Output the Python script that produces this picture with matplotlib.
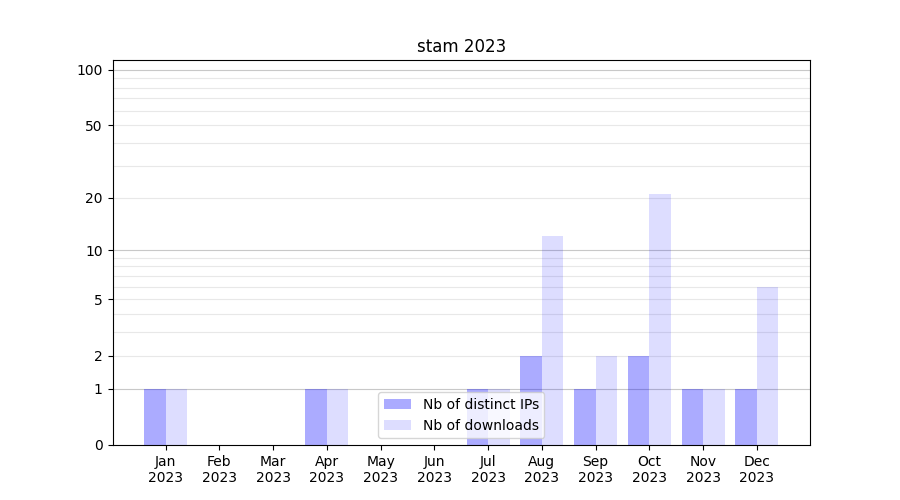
import numpy as np
import matplotlib.pyplot as plt

# Données
months = ["Jan", "Feb", "Mar", "Apr", "May", "Jun", "Jul", "Aug", "Sep", "Oct", "Nov", "Dec"]
year = "2023"
ips = [1, 0, 0, 1, 0, 0, 1, 2, 1, 2, 1, 1]
downloads = [1, 0, 0, 1, 0, 0, 1, 12, 2, 21, 1, 6]
yticks = [0, 1, 2, 5, 10, 20, 50, 100]

fig, ax = plt.subplots(figsize=(9, 5), dpi=100)

# Échelle log(x+1)
ax.set_yscale('function', functions=(lambda v: np.log10(np.clip(v, -0.999, None) + 1),
                                     lambda v: 10 ** v - 1))

x = np.arange(len(months))
ax.bar(x - 0.2, ips, width=0.4, color='blue', alpha=0.33, label='Nb of distinct IPs')
ax.bar(x + 0.2, downloads, width=0.4, color='blue', alpha=0.135, label='Nb of downloads')

# Grille
for dec in [1, 10]:
    for k in range(2, 10):
        ax.axhline(k * dec, color='#e8e8e8', linewidth=0.8, zorder=0.5)
for v in [1, 10, 100]:
    ax.axhline(v, color='#c8c8c8', linewidth=0.8, zorder=0.5)

ax.set_ylim(0, 113)
ax.set_yticks(yticks)
ax.set_yticklabels([str(v) for v in yticks])
ax.minorticks_off()
ax.set_xticks(x)
ax.set_xticklabels([m + "\n" + year for m in months])
ax.set_title("stam 2023")
ax.legend(loc='lower center')

plt.savefig("out.png")
